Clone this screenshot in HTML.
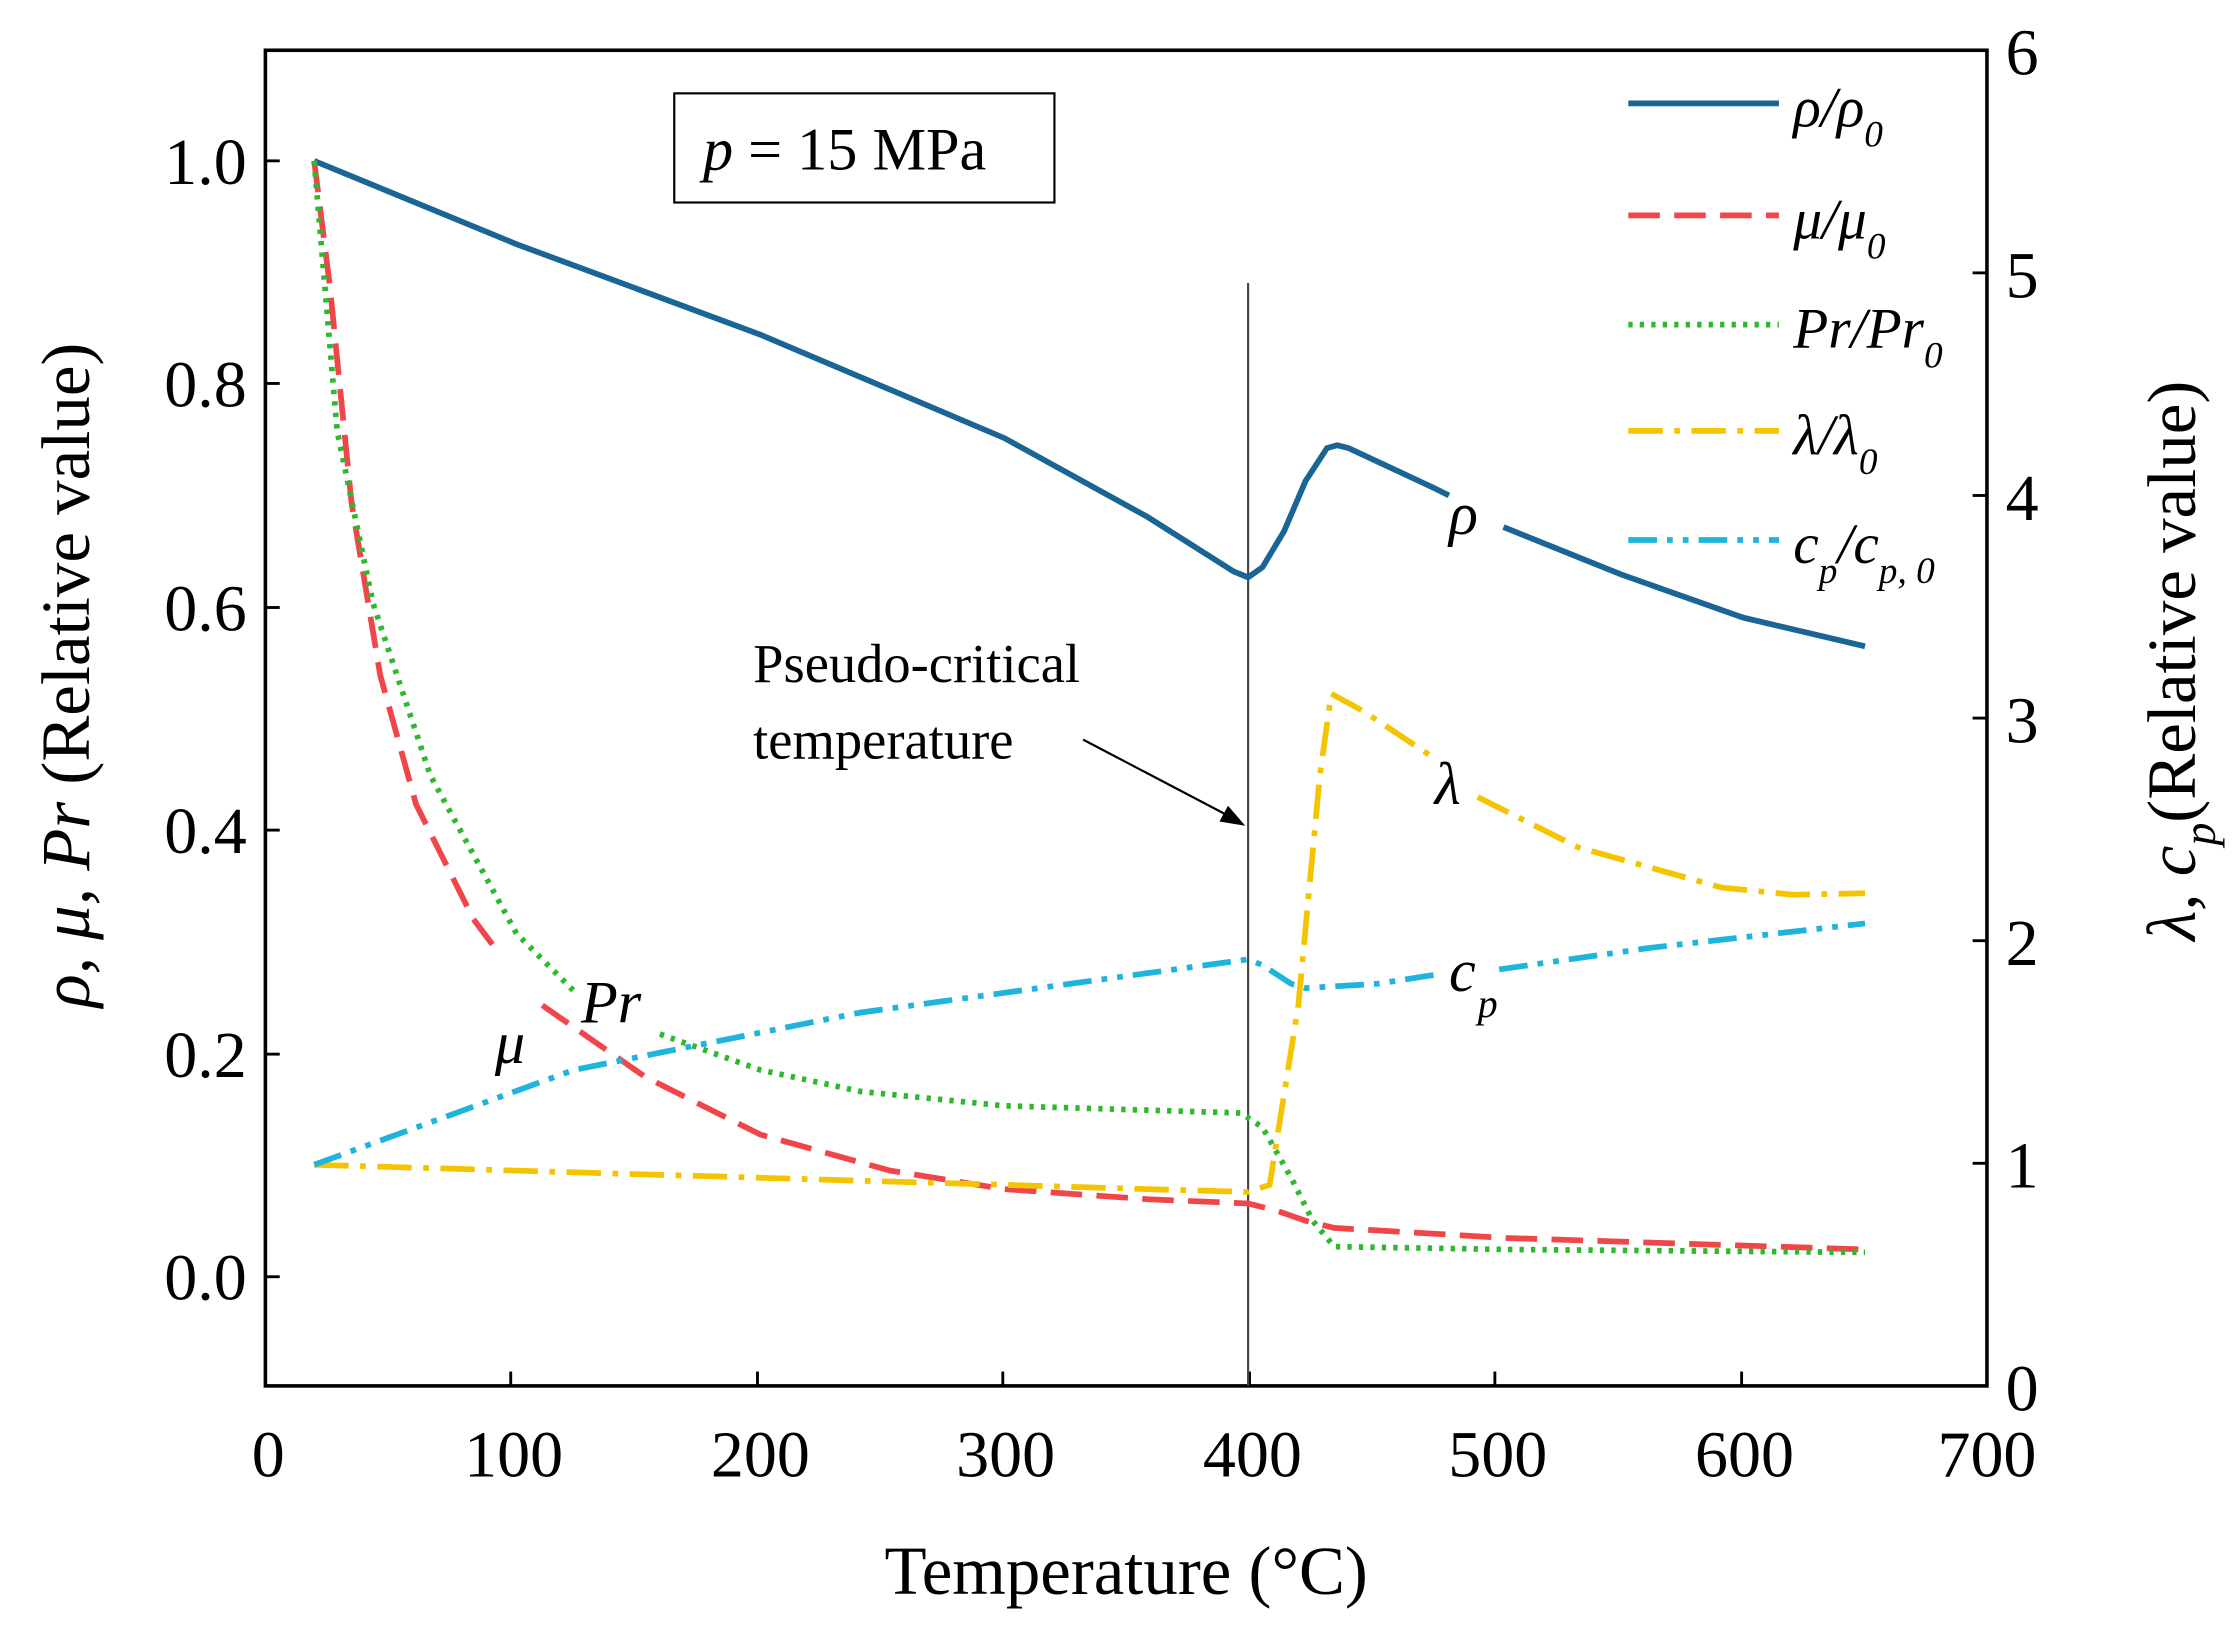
<!DOCTYPE html>
<html><head><meta charset="utf-8"><style>html,body{margin:0;padding:0;background:#fff}</style></head><body>
<svg width="2238" height="1620" viewBox="0 0 1560 1128" preserveAspectRatio="none" xmlns="http://www.w3.org/2000/svg" font-family="Liberation Serif, serif">
<rect width="1560" height="1128" fill="#fff"/>
<rect x="185" y="35" width="1200" height="930" fill="none" stroke="#000" stroke-width="2.5"/>
<g stroke="#000" stroke-width="2">
<line x1="185" y1="889" x2="195" y2="889"/><line x1="185" y1="734" x2="195" y2="734"/><line x1="185" y1="578" x2="195" y2="578"/><line x1="185" y1="423" x2="195" y2="423"/><line x1="185" y1="267" x2="195" y2="267"/><line x1="185" y1="112" x2="195" y2="112"/>
<line x1="356" y1="965" x2="356" y2="955"/><line x1="528" y1="965" x2="528" y2="955"/><line x1="699" y1="965" x2="699" y2="955"/><line x1="871" y1="965" x2="871" y2="955"/><line x1="1042" y1="965" x2="1042" y2="955"/><line x1="1214" y1="965" x2="1214" y2="955"/>
<line x1="1385" y1="810" x2="1375" y2="810"/><line x1="1385" y1="655" x2="1375" y2="655"/><line x1="1385" y1="500" x2="1375" y2="500"/><line x1="1385" y1="345" x2="1375" y2="345"/><line x1="1385" y1="190" x2="1375" y2="190"/>
</g>
<g font-size="46" text-anchor="end">
<text x="172" y="905">0.0</text><text x="172" y="750">0.2</text><text x="172" y="594">0.4</text><text x="172" y="439">0.6</text><text x="172" y="283">0.8</text><text x="172" y="128">1.0</text>
</g>
<g font-size="46" text-anchor="middle">
<text x="187" y="1028">0</text><text x="358" y="1028">100</text><text x="530" y="1028">200</text><text x="701" y="1028">300</text><text x="873" y="1028">400</text><text x="1044" y="1028">500</text><text x="1216" y="1028">600</text><text x="1385" y="1028">700</text>
</g>
<g font-size="46">
<text x="1398" y="982">0</text><text x="1398" y="827">1</text><text x="1398" y="672">2</text><text x="1398" y="517">3</text><text x="1398" y="362">4</text><text x="1398" y="207">5</text><text x="1398" y="52">6</text>
</g>
<text x="785" y="1110" font-size="48" text-anchor="middle">Temperature (°C)</text>
<text transform="translate(62,470) rotate(-90)" font-size="48" text-anchor="middle"><tspan font-style="italic">ρ, μ, Pr</tspan>  (Relative value)</text>
<text transform="translate(1530,460) rotate(-90)" font-size="48" text-anchor="middle"><tspan font-style="italic">λ, c</tspan><tspan font-style="italic" font-size="32" dy="14">p</tspan><tspan dy="-14">(Relative value)</tspan></text>
<rect x="470" y="65" width="265" height="76" fill="none" stroke="#000" stroke-width="1.5"/>
<text x="490" y="118" font-size="42"><tspan font-style="italic">p</tspan> = 15 MPa</text>
<line x1="870" y1="197" x2="870" y2="965" stroke="#444" stroke-width="1.5"/>
<text x="525" y="475" font-size="38">Pseudo-critical</text>
<text x="525" y="528" font-size="38">temperature</text>
<line x1="755" y1="515" x2="860" y2="570" stroke="#000" stroke-width="1.5"/>
<polygon points="868,575 850,572 856,561" fill="#000"/>
<g fill="none" stroke-width="4">
<polyline stroke="#1a6496" points="219,112 360,170 530,233 700,305 800,360 860,398 870,402 880,395 895,370 910,335 925,312 932,310 940,312 1000,340 1010,345"/>
<polyline stroke="#1a6496" points="1048,367 1130,400 1215,430 1300,450"/>
<polyline stroke="#f0464a" stroke-dasharray="22,10" points="219,112 230,200 245,350 265,470 290,560 330,640 345,660"/>
<polyline stroke="#f0464a" stroke-dasharray="22,10" points="378,700 450,750 530,790 620,815 700,828 800,835 870,838 890,843 910,850 930,855 1050,862 1300,870"/>
<polyline stroke="#2fb82f" stroke-dasharray="3,5" points="219,112 235,300 260,420 300,540 360,650 400,690"/>
<polyline stroke="#2fb82f" stroke-dasharray="3,5" points="460,720 530,745 600,760 700,770 800,773 865,775 880,785 900,820 915,850 930,868 1050,870 1300,872"/>
<polyline stroke="#f5c400" stroke-dasharray="24,8,4,8" points="219,811 870,830 885,825 905,700 920,540 928,483 950,495 1000,528"/>
<polyline stroke="#f5c400" stroke-dasharray="24,8,4,8" points="1030,555 1100,590 1200,618 1250,623 1300,622"/>
<polyline stroke="#1eb4dc" stroke-dasharray="20,7,4,7,4,7" points="219,811 400,745 600,705 870,668 880,672 900,685 910,688 960,685 1005,678"/>
<polyline stroke="#1eb4dc" stroke-dasharray="20,7,4,7,4,7" points="1045,675 1150,660 1300,643"/>
</g>
<g font-style="italic" font-size="42">
<text x="1010" y="372">ρ</text>
<text x="345" y="740">μ</text>
<text x="405" y="712">Pr</text>
<text x="1000" y="560">λ</text>
<text x="1010" y="690">c</text><text x="1030" y="708" font-size="28">p</text>
</g>
<g fill="none" stroke-width="4">
<line x1="1135" y1="72" x2="1240" y2="72" stroke="#1a6496"/>
<line x1="1135" y1="150" x2="1240" y2="150" stroke="#f0464a" stroke-dasharray="22,10"/>
<line x1="1135" y1="226" x2="1240" y2="226" stroke="#2fb82f" stroke-dasharray="3,5"/>
<line x1="1135" y1="300" x2="1240" y2="300" stroke="#f5c400" stroke-dasharray="24,8,4,8"/>
<line x1="1135" y1="376" x2="1240" y2="376" stroke="#1eb4dc" stroke-dasharray="20,7,4,7,4,7"/>
</g>
<g font-style="italic" font-size="40">
<text x="1250" y="88">ρ/ρ<tspan font-size="26" dy="14">0</tspan></text>
<text x="1250" y="166">μ/μ<tspan font-size="26" dy="14">0</tspan></text>
<text x="1250" y="242">Pr/Pr<tspan font-size="26" dy="14">0</tspan></text>
<text x="1250" y="316">λ/λ<tspan font-size="26" dy="14">0</tspan></text>
<text x="1250" y="392">c<tspan font-size="26" dy="14">p</tspan><tspan dy="-14">/c</tspan><tspan font-size="26" dy="14">p, 0</tspan></text>
</g>
</svg>
</body></html>
